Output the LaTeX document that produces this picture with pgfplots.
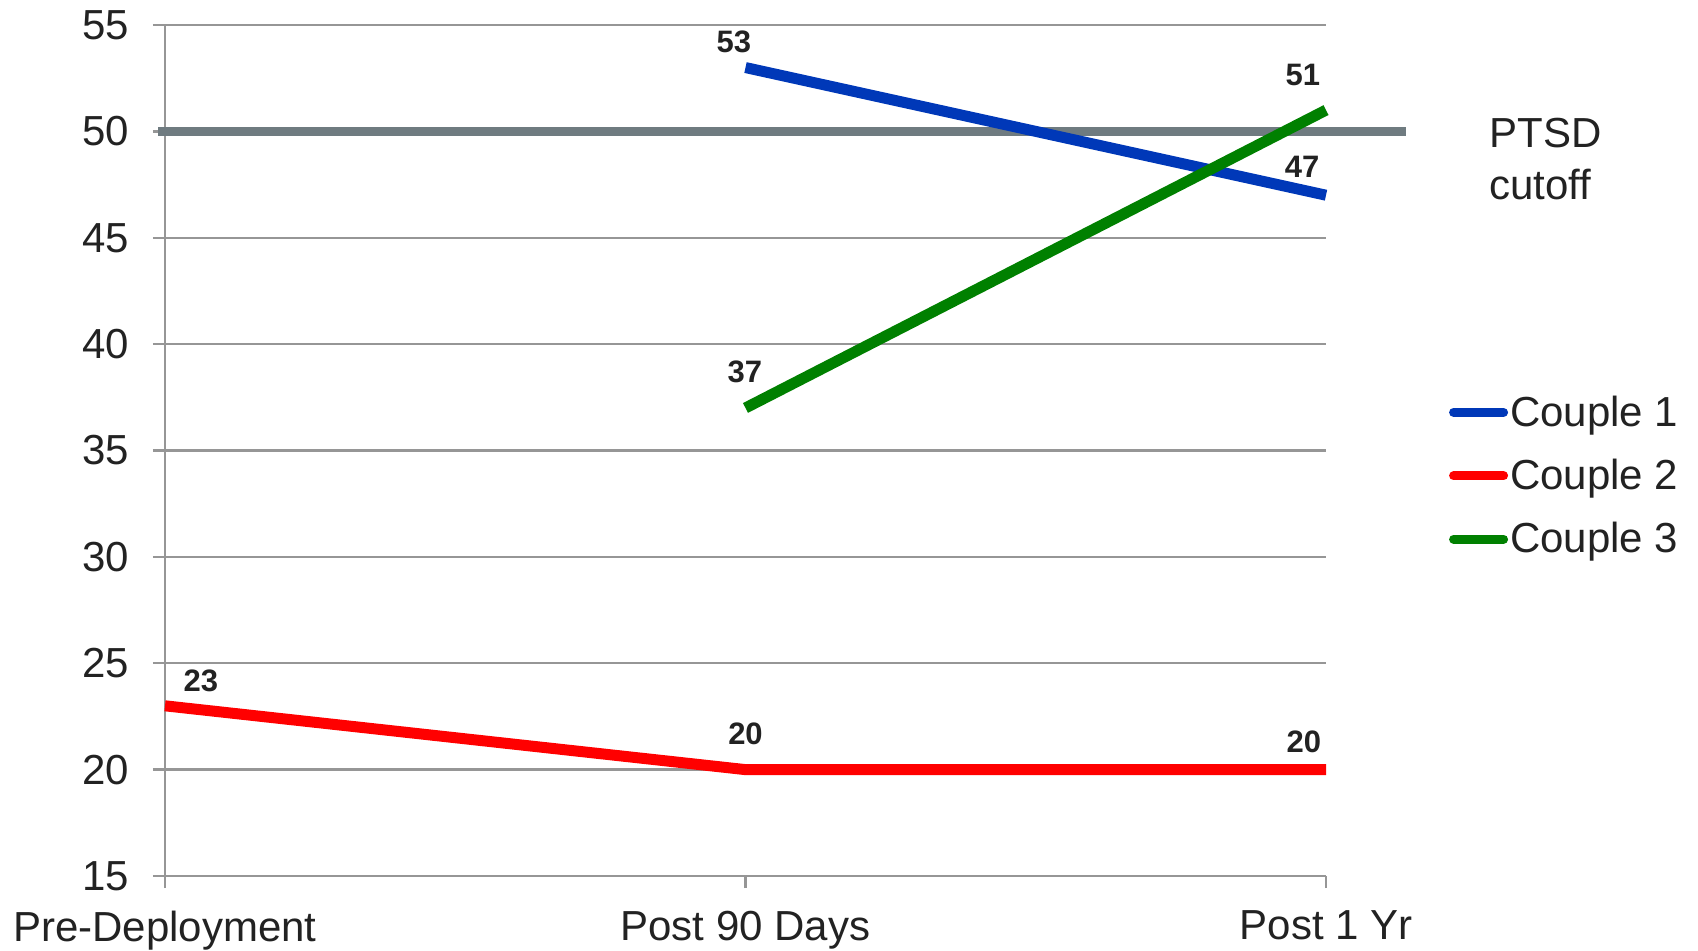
\documentclass[border=0pt]{standalone}
\usepackage{pgfplots}
\pgfplotsset{compat=1.18}
\usepackage{fontspec}
\setmainfont{Liberation Sans}

\definecolor{gridgray}{RGB}{150,150,150}
\definecolor{cutgray}{RGB}{111,123,128}
\definecolor{cblue}{RGB}{0,56,184}
\definecolor{cred}{RGB}{255,0,0}
\definecolor{cgreen}{RGB}{0,128,0}
\definecolor{txt}{RGB}{34,34,34}

\begin{document}
\begin{tikzpicture}
\begin{axis}[
    scale only axis,
    width=580.5pt, height=425.5pt,
    xmin=0, xmax=2,
    ymin=15, ymax=55,
    xtick={0,1,2},
    xticklabels={Pre-Deployment, Post 90 Days, Post 1 Yr},
    ytick={15,20,...,55},
    axis lines=left,
    axis line style={-, gridgray, line width=1.2pt},
    ymajorgrids,
    grid style={gridgray, line width=1.2pt},
    tick align=outside,
    major tick length=6pt,
    tick style={gridgray, line width=1.2pt},
    /pgf/number format/assume math mode=true,
    ticklabel style={font=\fontsize{21}{25}\selectfont, text=txt},
    yticklabel style={xshift=-8.5pt},
    xticklabel style={yshift=-8pt},
    clip=false,
    legend style={at={(1.1005,0.572)}, anchor=north west, draw=none, fill=none,
        font=\fontsize{21}{25}\selectfont, text=txt, row sep=13pt,
        nodes={inner sep=1pt}},
    legend cell align=left,
    legend image code/.code={\draw[#1, line cap=round, line width=4.5pt] (0pt,0pt) -- (25pt,0pt);},
]
% PTSD cutoff reference line
\addplot[cutgray, line width=4.5pt, forget plot] coordinates {(-0.012,50) (2.138,50)};

\addplot[cblue, line width=5.5pt] coordinates {(1,53) (2,47)};
\addlegendentry{Couple 1}
\addplot[cred, line width=5.5pt] coordinates {(0,23) (1,20) (2,20)};
\addlegendentry{Couple 2}
\addplot[cgreen, line width=5.5pt] coordinates {(1,37) (2,51)};
\addlegendentry{Couple 3}

\begin{scope}[every node/.style={font=\fontsize{15.5}{18}\selectfont\bfseries, text=txt}]
\node at (axis cs:0.980,54.2) {53};
\node at (axis cs:0.999,38.7) {37};
\node at (axis cs:1.960,52.65) {51};
\node at (axis cs:1.959,48.33) {47};
\node at (axis cs:0.062,24.17) {23};
\node at (axis cs:1.000,21.67) {20};
\node at (axis cs:1.962,21.30) {20};
\end{scope}

\node[anchor=west, align=left, text=txt, font=\fontsize{21}{26}\selectfont,
      inner sep=0pt] at (rel axis cs:1.1404,0.8425) {PTSD\\cutoff};
\end{axis}
\pgfresetboundingbox
\path (-82.5pt,-37pt) rectangle (766.5pt,438pt);
\end{tikzpicture}
\end{document}
